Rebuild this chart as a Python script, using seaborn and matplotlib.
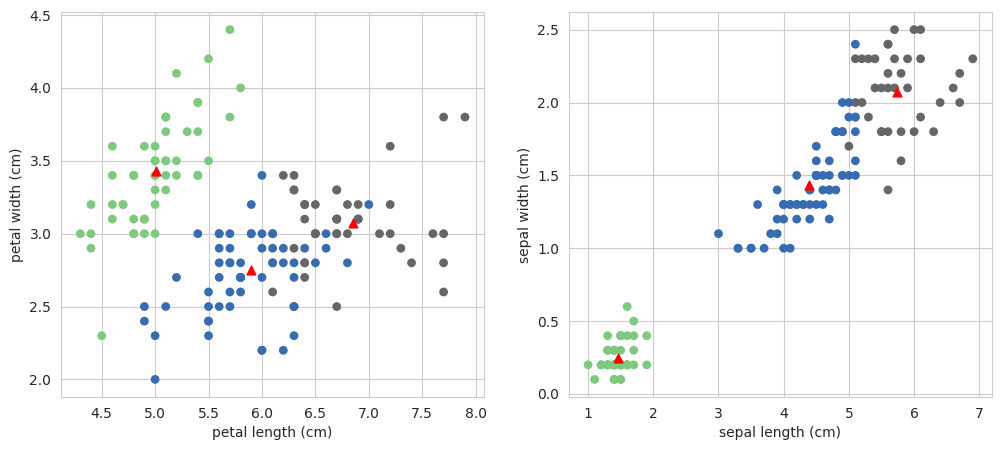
import numpy as np
import pandas as pd
import matplotlib
matplotlib.use('Agg')
import matplotlib.pyplot as plt
import seaborn as sns

# iris measurements (150 rows: setosa, versicolor, virginica)
sepal_length = [5.1, 4.9, 4.7, 4.6, 5.0, 5.4, 4.6, 5.0, 4.4, 4.9, 5.4, 4.8, 4.8, 4.3, 5.8, 5.7, 5.4, 5.1, 5.7, 5.1,
                5.4, 5.1, 4.6, 5.1, 4.8, 5.0, 5.0, 5.2, 5.2, 4.7, 4.8, 5.4, 5.2, 5.5, 4.9, 5.0, 5.5, 4.9, 4.4, 5.1,
                5.0, 4.5, 4.4, 5.0, 5.1, 4.8, 5.1, 4.6, 5.3, 5.0,
                7.0, 6.4, 6.9, 5.5, 6.5, 5.7, 6.3, 4.9, 6.6, 5.2, 5.0, 5.9, 6.0, 6.1, 5.6, 6.7, 5.6, 5.8, 6.2, 5.6,
                5.9, 6.1, 6.3, 6.1, 6.4, 6.6, 6.8, 6.7, 6.0, 5.7, 5.5, 5.5, 5.8, 6.0, 5.4, 6.0, 6.7, 6.3, 5.6, 5.5,
                5.5, 6.1, 5.8, 5.0, 5.6, 5.7, 5.7, 6.2, 5.1, 5.7,
                6.3, 5.8, 7.1, 6.3, 6.5, 7.6, 4.9, 7.3, 6.7, 7.2, 6.5, 6.4, 6.8, 5.7, 5.8, 6.4, 6.5, 7.7, 7.7, 6.0,
                6.9, 5.6, 7.7, 6.3, 6.7, 7.2, 6.2, 6.1, 6.4, 7.2, 7.4, 7.9, 6.4, 6.3, 6.1, 7.7, 6.3, 6.4, 6.0, 6.9,
                6.7, 6.9, 5.8, 6.8, 6.7, 6.7, 6.3, 6.5, 6.2, 5.9]
sepal_width = [3.5, 3.0, 3.2, 3.1, 3.6, 3.9, 3.4, 3.4, 2.9, 3.1, 3.7, 3.4, 3.0, 3.0, 4.0, 4.4, 3.9, 3.5, 3.8, 3.8,
               3.4, 3.7, 3.6, 3.3, 3.4, 3.0, 3.4, 3.5, 3.4, 3.2, 3.1, 3.4, 4.1, 4.2, 3.1, 3.2, 3.5, 3.6, 3.0, 3.4,
               3.5, 2.3, 3.2, 3.5, 3.8, 3.0, 3.8, 3.2, 3.7, 3.3,
               3.2, 3.2, 3.1, 2.3, 2.8, 2.8, 3.3, 2.4, 2.9, 2.7, 2.0, 3.0, 2.2, 2.9, 2.9, 3.1, 3.0, 2.7, 2.2, 2.5,
               3.2, 2.8, 2.5, 2.8, 2.9, 3.0, 2.8, 3.0, 2.9, 2.6, 2.4, 2.4, 2.7, 2.7, 3.0, 3.4, 3.1, 2.3, 3.0, 2.5,
               2.6, 3.0, 2.6, 2.3, 2.7, 3.0, 2.9, 2.9, 2.5, 2.8,
               3.3, 2.7, 3.0, 2.9, 3.0, 3.0, 2.5, 2.9, 2.5, 3.6, 3.2, 2.7, 3.0, 2.5, 2.8, 3.2, 3.0, 3.8, 2.6, 2.2,
               3.2, 2.8, 2.8, 2.7, 3.3, 3.2, 2.8, 3.0, 2.8, 3.0, 2.8, 3.8, 2.8, 2.8, 2.6, 3.0, 3.4, 3.1, 3.0, 3.1,
               3.1, 3.1, 2.7, 3.2, 3.3, 3.0, 2.5, 3.0, 3.4, 3.0]
petal_length = [1.4, 1.4, 1.3, 1.5, 1.4, 1.7, 1.4, 1.5, 1.4, 1.5, 1.5, 1.6, 1.4, 1.1, 1.2, 1.5, 1.3, 1.4, 1.7, 1.5,
                1.7, 1.5, 1.0, 1.7, 1.9, 1.6, 1.6, 1.5, 1.4, 1.6, 1.6, 1.5, 1.5, 1.4, 1.5, 1.2, 1.3, 1.4, 1.3, 1.5,
                1.3, 1.3, 1.3, 1.6, 1.9, 1.4, 1.6, 1.4, 1.5, 1.4,
                4.7, 4.5, 4.9, 4.0, 4.6, 4.5, 4.7, 3.3, 4.6, 3.9, 3.5, 4.2, 4.0, 4.7, 3.6, 4.4, 4.5, 4.1, 4.5, 3.9,
                4.8, 4.0, 4.9, 4.7, 4.3, 4.4, 4.8, 5.0, 4.5, 3.5, 3.8, 3.7, 3.9, 5.1, 4.5, 4.5, 4.7, 4.4, 4.1, 4.0,
                4.4, 4.6, 4.0, 3.3, 4.2, 4.2, 4.2, 4.3, 3.0, 4.1,
                6.0, 5.1, 5.9, 5.6, 5.8, 6.6, 4.5, 6.3, 5.8, 6.1, 5.1, 5.3, 5.5, 5.0, 5.1, 5.3, 5.5, 6.7, 6.9, 5.0,
                5.7, 4.9, 6.7, 4.9, 5.7, 6.0, 4.8, 4.9, 5.6, 5.8, 6.1, 6.4, 5.6, 5.1, 5.6, 6.1, 5.6, 5.5, 4.8, 5.4,
                5.6, 5.1, 5.1, 5.9, 5.7, 5.2, 5.0, 5.2, 5.4, 5.1]
petal_width = [0.2, 0.2, 0.2, 0.2, 0.2, 0.4, 0.3, 0.2, 0.2, 0.1, 0.2, 0.2, 0.1, 0.1, 0.2, 0.4, 0.4, 0.3, 0.3, 0.3,
               0.2, 0.4, 0.2, 0.5, 0.2, 0.2, 0.4, 0.2, 0.2, 0.2, 0.2, 0.4, 0.1, 0.2, 0.2, 0.2, 0.2, 0.1, 0.2, 0.2,
               0.3, 0.3, 0.2, 0.6, 0.4, 0.3, 0.2, 0.2, 0.2, 0.2,
               1.4, 1.5, 1.5, 1.3, 1.5, 1.3, 1.6, 1.0, 1.3, 1.4, 1.0, 1.5, 1.0, 1.4, 1.3, 1.4, 1.5, 1.0, 1.5, 1.1,
               1.8, 1.3, 1.5, 1.2, 1.3, 1.4, 1.4, 1.7, 1.5, 1.0, 1.1, 1.0, 1.2, 1.6, 1.5, 1.6, 1.5, 1.3, 1.3, 1.3,
               1.2, 1.4, 1.2, 1.0, 1.3, 1.2, 1.3, 1.3, 1.1, 1.3,
               2.5, 1.9, 2.1, 1.8, 2.2, 2.1, 1.7, 1.8, 1.8, 2.5, 2.0, 1.9, 2.1, 2.0, 2.4, 2.3, 1.8, 2.2, 2.3, 1.5,
               2.3, 2.0, 2.0, 1.8, 2.1, 1.8, 1.8, 1.8, 2.1, 1.6, 1.9, 2.0, 2.2, 1.5, 1.4, 2.3, 2.4, 1.8, 1.8, 2.1,
               2.4, 2.3, 1.9, 2.3, 2.5, 2.3, 1.9, 2.0, 2.3, 1.8]
# k-means cluster labels (0, 1, 2)
cluster = [0] * 50 + \
    [1, 1, 2, 1, 1, 1, 1, 1, 1, 1, 1, 1, 1, 1, 1, 1, 1, 1, 1, 1, 1, 1, 1, 1, 1,
     1, 1, 2, 1, 1, 1, 1, 1, 1, 1, 1, 1, 1, 1, 1, 1, 1, 1, 1, 1, 1, 1, 1, 1, 1] + \
    [2, 1, 2, 2, 2, 2, 1, 2, 2, 2, 2, 2, 2, 1, 1, 2, 2, 2, 2, 1, 2, 1, 2, 1, 2,
     2, 1, 1, 2, 2, 2, 2, 2, 1, 2, 2, 2, 2, 1, 2, 2, 2, 1, 2, 2, 2, 1, 2, 2, 1]

df = pd.DataFrame({'sl': sepal_length, 'sw': sepal_width,
                   'pl': petal_length, 'pw': petal_width, 'cluster': cluster})
centers = df.groupby('cluster')[['sl', 'sw', 'pl', 'pw']].mean()

sns.set_style('whitegrid')
palette = {0: '#7fc97f', 1: '#386cb0', 2: '#666666'}

fig, axes = plt.subplots(1, 2, figsize=(10.01, 4.5), dpi=100)
fig.subplots_adjust(left=0.061, right=0.991, bottom=0.118, top=0.973, wspace=0.2)

# left panel
ax = axes[0]
sns.scatterplot(data=df, x='sl', y='sw', hue='cluster', palette=palette,
                s=40, linewidth=0, legend=False, ax=ax)
ax.scatter(centers['sl'], centers['sw'], marker='^', color='red', s=40, zorder=3)
ax.set_xlabel('petal length (cm)')
ax.set_ylabel('petal width (cm)')

# right panel
ax = axes[1]
sns.scatterplot(data=df, x='pl', y='pw', hue='cluster', palette=palette,
                s=40, linewidth=0, legend=False, ax=ax)
ax.scatter(centers['pl'], centers['pw'], marker='^', color='red', s=40, zorder=3)
ax.set_xlabel('sepal length (cm)')
ax.set_ylabel('sepal width (cm)')

fig.savefig('out.png', dpi=100)
